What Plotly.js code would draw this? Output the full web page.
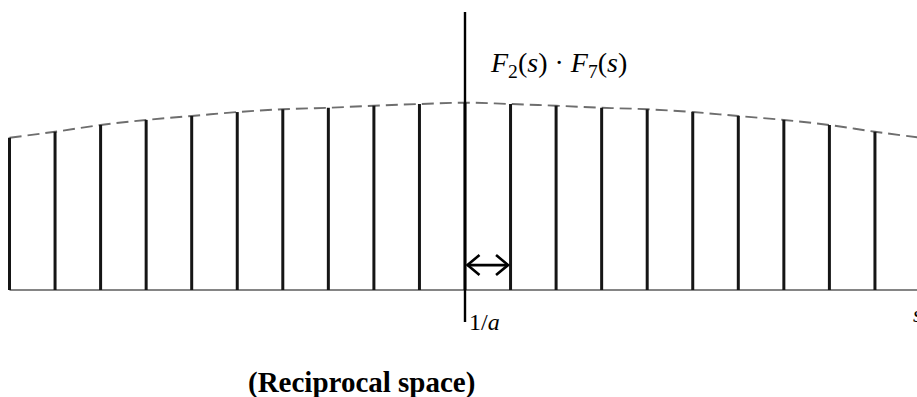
<!DOCTYPE html>
<html>
<head>
<meta charset="utf-8">
<script src="https://cdn.plot.ly/plotly-3.0.1.min.js"></script>
<style>
  html, body { margin: 0; padding: 0; background: #fff; }
  #chart { width: 917px; height: 397px; }
</style>
</head>
<body>
<div id="chart"></div>
<script>
// Reciprocal-lattice points s = n / a (n in units of 1/a)
const latticeN = [-10, -9, -8, -7, -6, -5, -4, -3, -2, -1, 0, 1, 2, 3, 4, 5, 6, 7, 8, 9];
// Peak amplitudes |F2(s) · F7(s)| at each lattice point (centre = 1)
const peakAmp = [0.813, 0.845, 0.881, 0.908, 0.929, 0.950, 0.965, 0.973, 0.984, 0.993,
                 1.000, 0.993, 0.984, 0.973, 0.965, 0.950, 0.929, 0.908, 0.881, 0.845];
// Continuous envelope sampled at the same spacing (runs on past the last peak)
const envN = [-10, -9, -8, -7, -6, -5, -4, -3, -2, -1, 0, 1, 2, 3, 4, 5, 6, 7, 8, 9, 10];
const envAmp = [0.813, 0.845, 0.881, 0.908, 0.929, 0.950, 0.965, 0.973, 0.984, 0.993,
                1.000, 0.993, 0.984, 0.973, 0.965, 0.950, 0.929, 0.908, 0.881, 0.845, 0.813];
// Ordinate axis through s = 0
const axisY = [-0.171, 1.484];
// Arrow marking one lattice spacing
const arrowFrom = 0, arrowTo = 1, arrowLevel = 0.133;

// Stick spectrum: one vertical segment per lattice point
const stickX = [], stickY = [];
latticeN.forEach((n, i) => {
  stickX.push(n, n, null);
  stickY.push(0, peakAmp[i], null);
});

const xMin = -465 / 45.55, xMax = 452 / 45.55;
const yMin = -107 / 187.3, yMax = 290 / 187.3;

// pixel -> data conversion for the arrow's open heads
const pxX = (xMax - xMin) / 917, pxY = (yMax - yMin) / 397;
const gap = 2.5 * pxX, headW = 12 * pxX, headH = 10 * pxY;
const a0 = arrowFrom + gap, a1 = arrowTo - gap;
const arrowX = [a0, a1, null, a0 + headW, a0, a0 + headW, null, a1 - headW, a1, a1 - headW];
const arrowY = [arrowLevel, arrowLevel, null,
                arrowLevel + headH, arrowLevel, arrowLevel - headH, null,
                arrowLevel + headH, arrowLevel, arrowLevel - headH];

const serif = 'Liberation Serif';

const traces = [
  { // baseline (s axis)
    x: [latticeN[0], xMax], y: [0, 0], mode: 'lines',
    line: { color: '#858585', width: 1.8 }, hoverinfo: 'skip'
  },
  { // envelope
    x: envN, y: envAmp, mode: 'lines',
    line: { color: '#6e6e6e', width: 1.9, dash: '12px,6px', shape: 'spline' }, hoverinfo: 'skip'
  },
  { // peaks
    x: stickX, y: stickY, mode: 'lines',
    line: { color: '#151515', width: 3 }, hoverinfo: 'skip'
  },
  { // ordinate axis
    x: [0, 0], y: axisY, mode: 'lines',
    line: { color: '#000', width: 2.4 }, hoverinfo: 'skip'
  },
  { // double-headed arrow spanning 1/a
    x: arrowX, y: arrowY, mode: 'lines',
    line: { color: '#000', width: 2.6, simplify: false }, hoverinfo: 'skip'
  }
];

const layout = {
  width: 917, height: 397,
  margin: { l: 0, r: 0, t: 0, b: 0 },
  paper_bgcolor: '#fff', plot_bgcolor: '#fff',
  showlegend: false,
  xaxis: { range: [xMin, xMax], visible: false, fixedrange: true },
  yaxis: { range: [yMin, yMax], visible: false, fixedrange: true },
  annotations: [
    {
      x: 0.5, y: 1.204, xref: 'x', yref: 'y', xanchor: 'left', yanchor: 'middle',
      text: '<i>F</i><sub>2</sub>(<i>s</i>) · <i>F</i><sub>7</sub>(<i>s</i>)',
      showarrow: false, font: { family: serif, size: 28, color: '#000' }
    },
    {
      x: 0.05, y: -0.172, xref: 'x', yref: 'y', xanchor: 'left', yanchor: 'middle',
      text: '1/<i>a</i>', showarrow: false,
      font: { family: serif, size: 24, color: '#000' }
    },
    {
      x: 9.8, y: -0.13, xref: 'x', yref: 'y', xanchor: 'left', yanchor: 'middle',
      text: '<i>s</i>', showarrow: false,
      font: { family: serif, size: 23, color: '#000' }
    },
    {
      x: 361 / 917, y: 1 - 382 / 397, xref: 'paper', yref: 'paper',
      xanchor: 'center', yanchor: 'middle',
      text: '<b>(Reciprocal space)</b>', showarrow: false,
      font: { family: serif, size: 29, color: '#000' }
    }
  ]
};

Plotly.newPlot('chart', traces, layout, { displayModeBar: false, staticPlot: true });
</script>
</body>
</html>
